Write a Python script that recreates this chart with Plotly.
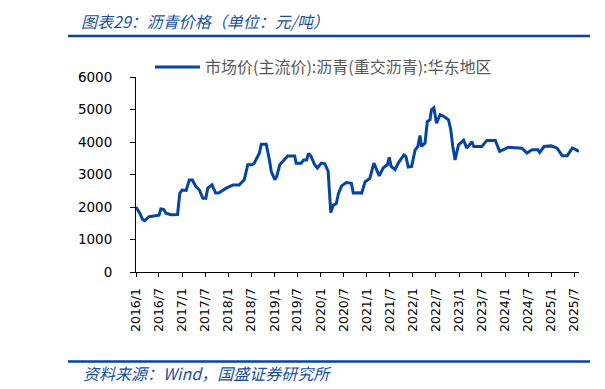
import plotly.graph_objects as go

# ---- data ----
dates = [
    "2016-01-01", "2016-02-01", "2016-02-22", "2016-03-10", "2016-04-13", "2016-06-01",
    "2016-07-01", "2016-07-16", "2016-08-07", "2016-08-25", "2016-10-04", "2016-11-25",
    "2016-12-13", "2017-01-01", "2017-02-01", "2017-02-26", "2017-03-22", "2017-04-19",
    "2017-05-16", "2017-06-13", "2017-07-07", "2017-07-22", "2017-08-25", "2017-09-22",
    "2017-10-16", "2017-12-16", "2018-02-07", "2018-03-28", "2018-05-07", "2018-06-04",
    "2018-07-07", "2018-07-25", "2018-09-04", "2018-09-19", "2018-10-28", "2018-11-22",
    "2018-12-07", "2019-01-04", "2019-01-19", "2019-02-12", "2019-03-22", "2019-04-16",
    "2019-06-10", "2019-06-22", "2019-08-01", "2019-08-19", "2019-09-13", "2019-09-28",
    "2019-10-16", "2019-11-16", "2019-12-07", "2020-01-07", "2020-02-04", "2020-03-01",
    "2020-03-22", "2020-04-10", "2020-05-04", "2020-05-22", "2020-06-16", "2020-07-22",
    "2020-09-01", "2020-09-16", "2020-10-25", "2020-11-22", "2020-12-19", "2021-01-25",
    "2021-02-26", "2021-03-13", "2021-04-10", "2021-05-10", "2021-06-13", "2021-06-28",
    "2021-07-13", "2021-08-13", "2021-09-07", "2021-10-22", "2021-11-07", "2021-11-25",
    "2021-12-22", "2022-01-19", "2022-02-09", "2022-02-26", "2022-03-10", "2022-04-07",
    "2022-04-25", "2022-05-16", "2022-05-28", "2022-06-16", "2022-07-07", "2022-08-04",
    "2022-09-01", "2022-10-10", "2022-10-28", "2022-11-13", "2022-12-01", "2022-12-28",
    "2023-02-07", "2023-03-04", "2023-04-13", "2023-04-28", "2023-07-01", "2023-08-10",
    "2023-10-16", "2023-11-19", "2024-01-28", "2024-05-13", "2024-06-22", "2024-08-01",
    "2024-09-16", "2024-10-01", "2024-11-04", "2025-01-01", "2025-02-16", "2025-03-28",
    "2025-05-07", "2025-06-16", "2025-07-07", "2025-08-07",
]
prices = [
    2000, 1800, 1620, 1580, 1700, 1720,
    1750, 1940, 1930, 1810, 1760, 1770,
    2430, 2520, 2510, 2830, 2830, 2630,
    2530, 2270, 2270, 2580, 2680, 2430,
    2430, 2580, 2680, 2680, 2840, 3300,
    3300, 3350, 3660, 3930, 3930, 3450,
    3090, 2840, 2940, 3300, 3450, 3570,
    3570, 3350, 3350, 3450, 3450, 3650,
    3570, 3300, 3200, 3350, 3330, 3100,
    1830, 2050, 2100, 2420, 2650, 2750,
    2730, 2430, 2440, 2430, 2780, 2880,
    3350, 3200, 2960, 3200, 3300, 3530,
    3250, 3150, 3350, 3600, 3550, 3230,
    3250, 3760, 3860, 4200, 3860, 3970,
    4630, 4680, 4990, 5050, 4580, 4840,
    4790, 4680, 4380, 3860, 3450, 3910,
    4050, 3810, 4010, 3860, 3860, 4050,
    4050, 3710, 3840, 3810, 3660, 3760,
    3760, 3680, 3860, 3880, 3810, 3580,
    3580, 3810, 3780, 3710,
]
series_name = "市场价(主流价):沥青(重交沥青):华东地区"
tick_labels = [
    "2016/1", "2016/7", "2017/1", "2017/7", "2018/1", "2018/7", "2019/1", "2019/7",
    "2020/1", "2020/7", "2021/1", "2021/7", "2022/1", "2022/7", "2023/1", "2023/7",
    "2024/1", "2024/7", "2025/1", "2025/7",
]
y_ticks = [0, 1000, 2000, 3000, 4000, 5000, 6000]
title_text = "图表29：沥青价格（单位：元/吨）"
source_text = "资料来源：Wind，国盛证券研究所"

tick_vals = ["%s-%02d-01" % (t.split("/")[0], int(t.split("/")[1])) for t in tick_labels]

# ---- layout geometry (pixels); page body adds an 8px offset ----
OFF = 8
W, H = 605 - OFF, 389 - OFF
L, R, T, B = 136 - OFF, 26, 77 - OFF, 117
PW, PH = W - L - R, H - T - B

def px(x):
    return (x - OFF - L) / PW

def py(y):
    return (H - B - (y - OFF)) / PH

BLUE = "#0545A0"
TXT_BLUE = "#1B4F9C"

fig = go.Figure()
fig.add_trace(go.Scatter(
    x=dates, y=prices, mode="lines", name=series_name,
    line=dict(color=BLUE, width=3), showlegend=True,
))

fig.update_layout(
    width=W, height=H,
    margin=dict(l=L, r=R, t=T, b=B, pad=0),
    paper_bgcolor="white", plot_bgcolor="white",
    font=dict(family="DejaVu Sans", color="black"),
    showlegend=True,
    legend=dict(
        orientation="h", x=px(150), y=py(67), xanchor="left", yanchor="middle",
        font=dict(family="Noto Sans CJK SC", size=16, color="#595959"),
        itemwidth=45, bgcolor="rgba(0,0,0,0)",
    ),
    xaxis=dict(
        type="date", range=["2016-01-01", "2025-08-08"],
        tickvals=tick_vals, ticktext=tick_labels, tickangle=-90,
        tickfont=dict(family="DejaVu Sans", size=12.5, color="black"),
        showline=True, linecolor="black", linewidth=1,
        ticks="outside", ticklen=4, tickcolor="black",
        ticklabelstandoff=6, showgrid=False, zeroline=False,
    ),
    yaxis=dict(
        range=[0, 6000], tickvals=y_ticks,
        tickfont=dict(family="DejaVu Sans", size=13.5, color="black"),
        showline=True, linecolor="black", linewidth=1,
        ticks="outside", ticklen=5, tickcolor="black",
        ticklabelstandoff=15, showgrid=False, zeroline=False,
    ),
)

fig.add_annotation(
    text=title_text, xref="paper", yref="paper", x=px(80), y=py(8.5),
    xanchor="left", yanchor="top", showarrow=False, borderpad=0,
    font=dict(family="Noto Sans CJK SC", size=16, color=TXT_BLUE, style="italic"),
)
fig.add_annotation(
    text=source_text, xref="paper", yref="paper", x=px(81), y=py(373),
    xanchor="left", yanchor="middle", showarrow=False,
    font=dict(family="Noto Sans CJK SC", size=16, color=TXT_BLUE, style="italic"),
)

for yy in (36, 361.5):
    fig.add_shape(type="line", xref="paper", yref="paper",
                  x0=px(68), x1=px(590), y0=py(yy), y1=py(yy),
                  line=dict(color=BLUE, width=2.5))
    fig.add_shape(type="line", xref="paper", yref="paper",
                  x0=px(601), x1=px(605), y0=py(yy), y1=py(yy),
                  line=dict(color=BLUE, width=2.5))

fig.write_html("out.html")
